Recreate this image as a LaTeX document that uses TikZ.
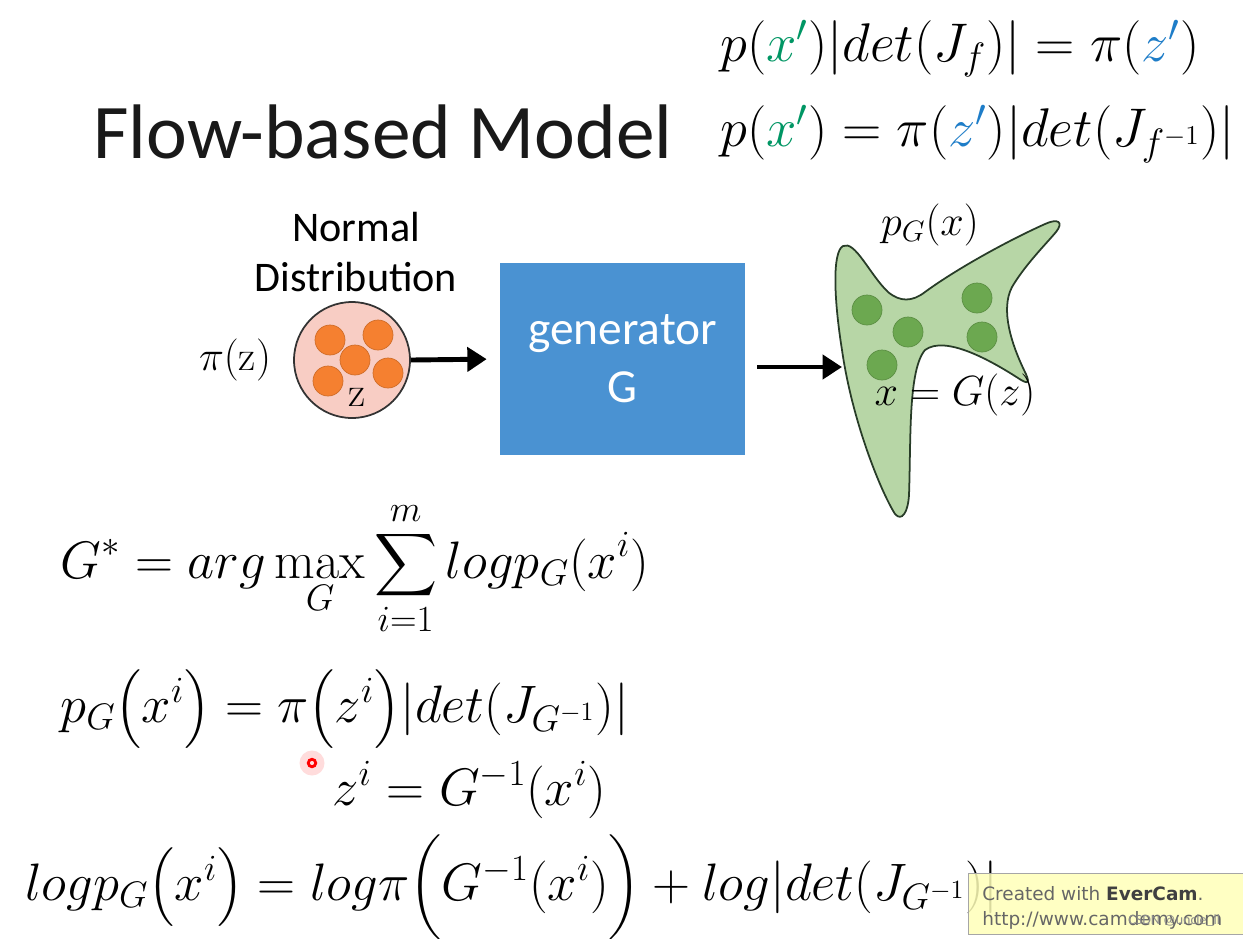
\RequirePackage{fix-cm}
\documentclass[tikz,border=0pt]{standalone}
\usepackage{amsmath}
\usepackage{fontspec}
\setsansfont{Carlito}
\newfontfamily\evfont{DejaVu Sans}
\usetikzlibrary{arrows.meta}
\definecolor{xg}{RGB}{0,150,100}
\definecolor{zb}{RGB}{30,125,200}
\definecolor{boxblue}{RGB}{74,146,210}
\definecolor{pinkfill}{RGB}{248,205,196}
\definecolor{orangedot}{RGB}{245,128,48}
\definecolor{blobfill}{RGB}{183,214,166}
\definecolor{blobedge}{RGB}{40,60,40}
\definecolor{greendot}{RGB}{108,168,80}
\definecolor{evy}{RGB}{255,255,185}
\tikzset{
  eqn/.style={anchor=base west, inner sep=0pt, font=\fontsize{30}{36}\selectfont},
  eqtop/.style={anchor=base west, inner sep=0pt, font=\fontsize{31}{37}\selectfont},
  arr/.style={line width=2.8pt, -{Triangle[length=11pt,width=13.5pt]}},
  odot/.style={circle, fill=orangedot, draw=orangedot!85!black, line width=0.4pt, minimum size=0.6cm, inner sep=0pt},
  gdot/.style={circle, fill=greendot, draw=greendot!85!black, line width=0.4pt, minimum size=0.6cm, inner sep=0pt},
  lbl/.style={inner sep=0pt, font=\fontsize{24}{29}\selectfont},
}
\begin{document}
\begin{tikzpicture}[x=0.02cm,y=-0.02cm]
\useasboundingbox[fill=white] (0,0) rectangle (1243,938);

% title
\node[anchor=base west, inner sep=0pt, text=black!90, font=\sffamily\fontsize{44}{50}\selectfont] (title) at (93,158) {Flow-based Model};

% top equations
\node[eqtop] (eqa) at (720,61) {$p({\color{xg}x'})|det(J_f)| = \pi({\color{zb}z'})$};
\node[eqtop] (eqb) at (720,146) {$p({\color{xg}x'}) = \pi({\color{zb}z'})|det(J_{f^{-1}})|$};

% normal distribution
\node[align=center, inner sep=0pt, font=\sffamily\fontsize{24}{29}\selectfont] (nd) at (356,252) {Normal\\Distribution};
\node[lbl] (piz) at (235,360) {$\pi(\mathrm{z})$};
\node[circle, draw=black!80, line width=1pt, fill=pinkfill, minimum size=2.32cm, inner sep=0pt] (zc) at (352,360) {};
\node[odot] (d1) at (330,340) {};
\node[odot] (d2) at (378,335) {};
\node[odot] (d3) at (355,360) {};
\node[odot] (d4) at (328,381) {};
\node[odot] (d5) at (388,373) {};
\node[lbl] (zl) at (357,397) {$\mathrm{z}$};

% generator
\node[fill=boxblue, minimum width=4.9cm, minimum height=3.84cm, text=white, align=center, inner sep=0pt,
  font=\sffamily\fontsize{27}{33}\selectfont] (gen) at (622.5,359) {generator\\G};

\draw[arr, shorten >=0.26cm] (zc.east) -- (gen.west);

% blob
\coordinate (a2s) at (757,367);
\coordinate (blobin) at (842,367);
\draw[arr] (a2s) -- (blobin);

\draw[fill=blobfill, draw=blobedge, line width=1pt]
 (843,246) .. controls (832,252) and (834,300) .. (842,350)
 .. controls (852,420) and (880,490) .. (895,514)
 .. controls (902,522) and (908,512) .. (909,495)
 .. controls (911,440) and (908,370) .. (925,350)
 .. controls (945,335) and (990,360) .. (1018,378)
 .. controls (1030,386) and (1030,382) .. (1024,370)
 .. controls (1012,345) and (1000,310) .. (1012,287)
 .. controls (1025,265) and (1045,245) .. (1056,232)
 .. controls (1064,222) and (1058,218) .. (1045,224)
 .. controls (1005,242) and (955,270) .. (925,292)
 .. controls (912,302) and (900,302) .. (888,292)
 .. controls (870,275) and (855,240) .. (843,246) -- cycle;
\node[gdot] (g1) at (867,310) {};
\node[gdot] (g2) at (908,332) {};
\node[gdot] (g3) at (882,365) {};
\node[gdot] (g4) at (977,298) {};
\node[gdot] (g5) at (982,337) {};
\node[lbl] (pgx) at (930,225) {$p_G(x)$};
\node[inner sep=0pt, font=\fontsize{24}{29}\selectfont] (xgz) at (955,395) {$x = G(z)$};

% lower equations
\node[eqn] (eqc) at (60,578) {$\displaystyle G^* = arg\max_G \sum_{i=1}^{m} logp_G(x^i)$};
\node[eqn] (eqd) at (60,722) {$p_G\bigl(x^i\bigr) = \pi\bigl(z^i\bigr)|det(J_{G^{-1}})|$};
\node[eqn] (eqe) at (332,805) {$z^i = G^{-1}(x^i)$};
\node[eqn] (eqf) at (25,900) {$logp_G\bigl(x^i\bigr) = log\pi\Bigl(G^{-1}(x^i)\Bigr)+log|det(J_{G^{-1}})|$};

% cursor mark
\node[circle, fill=red!30, opacity=0.45, minimum size=0.5cm, inner sep=0pt] (curglow) at (312,763) {};
\node[circle, draw=red, line width=1.6pt, minimum size=0.15cm, inner sep=0pt] (cur) at (312,763) {};

% EverCam label
\node[draw=black!35, fill=evy, fill opacity=0.85, anchor=north west, minimum width=5.7cm, minimum height=1.22cm, inner sep=0pt] (ev) at (968,873) {};
\node[anchor=base west, inner sep=0pt, text=black!60, font=\evfont\fontsize{10.5}{12}\selectfont] (ev1) at (982,900) {Created with \textcolor{black!75}{\textbf{EverCam}}.};
\node[anchor=base west, inner sep=0pt, text=black!60, font=\evfont\fontsize{10.5}{12}\selectfont] (ev2) at (982,925) {http://www.camdemy.com};
\node[anchor=base west, inner sep=0pt, text=black!45, font=\sffamily\fontsize{8}{9}\selectfont] (wm) at (1128,924) {CSDN @uncle\_ll};
\end{tikzpicture}
\end{document}
